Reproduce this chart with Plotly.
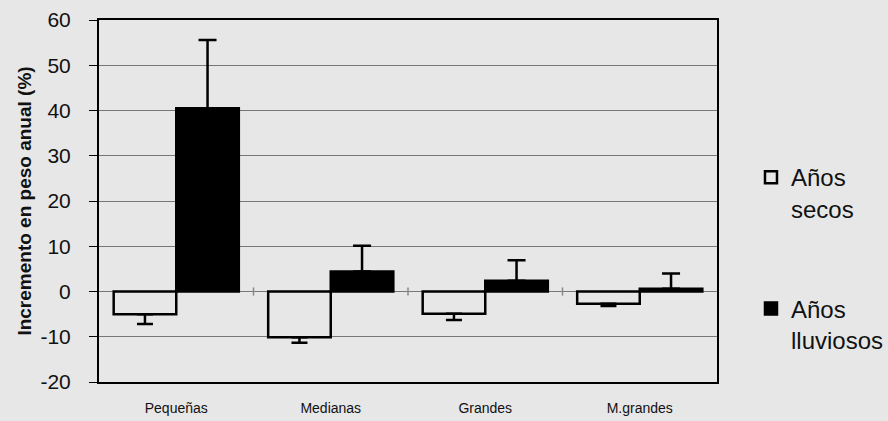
import plotly.graph_objects as go

categories = ["Pequeñas", "Medianas", "Grandes", "M.grandes"]
secos = [-5.0, -10.1, -4.9, -2.7]
secos_err = [2.2, 1.2, 1.4, 0.5]
lluviosos = [40.5, 4.4, 2.4, 0.6]
lluviosos_err = [15.1, 5.7, 4.5, 3.4]
zeros = [0, 0, 0, 0]
y_ticks = [-20, -10, 0, 10, 20, 30, 40, 50, 60]
y_ticktext = ["-20", "-10", "0", "10", "20", "30", "40", "50", "60"]

FONT = "Liberation Sans, Arial, sans-serif"
BG = "#e7e7e7"

fig = go.Figure()
fig.add_trace(go.Bar(
    x=categories, y=secos, name="Años<br>secos",
    marker=dict(color=BG, line=dict(color="black", width=2.5)),
    error_y=dict(type="data", symmetric=False, array=zeros, arrayminus=secos_err,
                 color="black", thickness=2.5, width=8),
    legendgroup="a",
))
fig.add_trace(go.Bar(
    x=categories, y=lluviosos, name="Años<br>lluviosos",
    marker=dict(color="black", line=dict(color="black", width=2.5)),
    error_y=dict(type="data", symmetric=False, array=lluviosos_err, arrayminus=zeros,
                 color="black", thickness=2.5, width=9),
    legendgroup="b",
))

for b in [0.5, 1.5, 2.5]:
    fig.add_shape(type="line", xref="x", yref="y", x0=b, x1=b, y0=-0.9, y1=0.9,
                  line=dict(color="#888888", width=1.5))

fig.update_layout(
    width=888, height=421,
    margin=dict(l=99, r=171, t=20, b=39, autoexpand=False),
    paper_bgcolor=BG, plot_bgcolor=BG,
    barmode="group", bargap=0.19, bargroupgap=0,
    font=dict(family=FONT, color="#111111"),
    showlegend=True,
    legend=dict(x=1.055, y=0.627, xanchor="left", yanchor="top", valign="top",
                font=dict(size=24, family=FONT, color="#111111"),
                tracegroupgap=66, bgcolor="rgba(0,0,0,0)",
                itemwidth=30),
    xaxis=dict(showline=True, linecolor="black", linewidth=2, mirror=True,
               ticks="", tickfont=dict(size=14), showgrid=False,
               ticklabelstandoff=12),
    yaxis=dict(range=[-20, 60], tickvals=y_ticks, ticktext=y_ticktext, showline=True,
               linecolor="black", linewidth=2, mirror=True, ticks="outside", ticklen=8,
               tickcolor="black", tickfont=dict(size=21), showgrid=True,
               gridcolor="#777777", gridwidth=1,
               zeroline=True, zerolinecolor="#777777", zerolinewidth=1,
               ticklabelstandoff=14,
               title=dict(text="<b>Incremento en peso anual (%)</b>", font=dict(size=19), standoff=4)),
)

fig.write_html("out.html", config={"displayModeBar": False},
               post_script="document.body.style.margin='0';document.documentElement.style.overflow='hidden';")
